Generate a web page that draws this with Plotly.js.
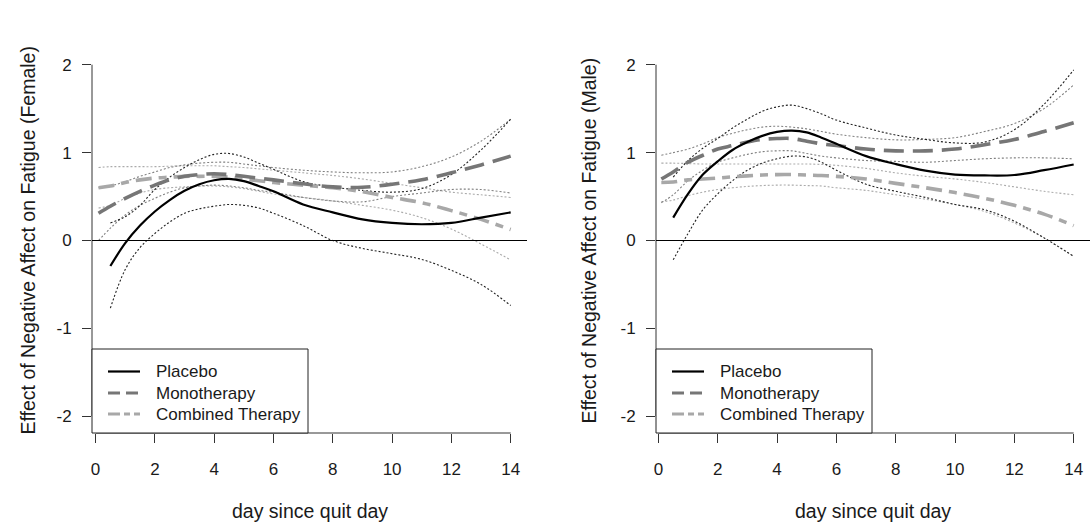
<!DOCTYPE html>
<html>
<head>
<meta charset="utf-8">
<script src="https://cdn.plot.ly/plotly-3.0.1.min.js"></script>
<style>html,body{margin:0;padding:0;background:#fff;}#chart{width:1092px;height:527px;}</style>
</head>
<body>
<div id="chart"></div>
<script>
// ---------- data ----------
const xTicks = [0, 2, 4, 6, 8, 10, 12, 14];
const xTickText = ["0", "2", "4", "6", "8", "10", "12", "14"];
const yTicks = [-2, -1, 0, 1, 2];
const yTickText = ["-2", "-1", "0", "1", "2"];

const seriesNames = ["Placebo", "Monotherapy", "Combined Therapy"];
const xTitle = "day since quit day";
const yTitleFemale = "Effect of Negative Affect on Fatigue (Female)";
const yTitleMale = "Effect of Negative Affect on Fatigue (Male)";

// day grids
const dayPlacebo = [0.5, 1, 1.5, 2, 2.5, 3, 3.5, 4, 4.5, 5, 5.5, 6, 7, 8, 9, 10, 11, 12, 13, 14];
const dayTreat = [0.1, 0.5, 1, 1.5, 2, 2.5, 3, 3.5, 4, 4.5, 5, 5.5, 6, 7, 8, 9, 10, 11, 12, 13, 14];

// ---- Female ----
const fPlacebo    = [-0.29, -0.03, 0.17, 0.33, 0.46, 0.565, 0.64, 0.685, 0.70, 0.675, 0.62, 0.56, 0.41, 0.32, 0.24, 0.20, 0.185, 0.20, 0.26, 0.32];
const fPlaceboLo  = [-0.77, -0.33, -0.08, 0.08, 0.21, 0.31, 0.36, 0.39, 0.41, 0.40, 0.37, 0.31, 0.17, 0.0, -0.09, -0.15, -0.215, -0.34, -0.50, -0.74];
const fPlaceboHi  = [0.20, 0.27, 0.40, 0.58, 0.72, 0.83, 0.92, 0.98, 0.99, 0.95, 0.88, 0.81, 0.67, 0.61, 0.57, 0.55, 0.59, 0.75, 1.03, 1.38];
const fMono       = [0.31, 0.39, 0.48, 0.56, 0.63, 0.69, 0.73, 0.75, 0.76, 0.75, 0.73, 0.71, 0.69, 0.645, 0.61, 0.605, 0.64, 0.69, 0.77, 0.86, 0.96];
const fMonoLo     = [0.0, 0.14, 0.29, 0.40, 0.48, 0.55, 0.60, 0.62, 0.63, 0.62, 0.60, 0.57, 0.55, 0.49, 0.45, 0.44, 0.50, 0.54, 0.58, 0.58, 0.54];
const fMonoHi     = [0.60, 0.62, 0.67, 0.73, 0.78, 0.83, 0.86, 0.88, 0.89, 0.89, 0.87, 0.85, 0.83, 0.80, 0.78, 0.77, 0.78, 0.84, 0.95, 1.13, 1.38];
const fComb       = [0.60, 0.62, 0.66, 0.69, 0.71, 0.72, 0.73, 0.73, 0.73, 0.72, 0.70, 0.68, 0.66, 0.63, 0.60, 0.555, 0.49, 0.43, 0.34, 0.24, 0.125];
const fCombLo     = [0.37, 0.40, 0.48, 0.54, 0.58, 0.60, 0.61, 0.62, 0.62, 0.61, 0.59, 0.56, 0.53, 0.49, 0.45, 0.40, 0.345, 0.26, 0.13, -0.04, -0.22];
const fCombHi     = [0.83, 0.84, 0.84, 0.84, 0.84, 0.845, 0.85, 0.85, 0.85, 0.84, 0.83, 0.815, 0.80, 0.77, 0.74, 0.70, 0.65, 0.60, 0.55, 0.52, 0.49];

// ---- Male ----
const mPlacebo    = [0.26, 0.53, 0.75, 0.90, 1.03, 1.12, 1.19, 1.235, 1.25, 1.23, 1.17, 1.10, 0.96, 0.87, 0.795, 0.75, 0.74, 0.745, 0.80, 0.865];
const mPlaceboLo  = [-0.22, 0.08, 0.35, 0.53, 0.68, 0.80, 0.88, 0.93, 0.96, 0.95, 0.89, 0.80, 0.64, 0.56, 0.49, 0.41, 0.35, 0.22, 0.03, -0.18];
const mPlaceboHi  = [0.72, 0.91, 1.05, 1.16, 1.28, 1.38, 1.47, 1.52, 1.54, 1.50, 1.44, 1.37, 1.28, 1.20, 1.15, 1.11, 1.12, 1.26, 1.55, 1.94];
const mMono       = [0.70, 0.78, 0.89, 0.97, 1.04, 1.08, 1.12, 1.15, 1.16, 1.16, 1.13, 1.10, 1.08, 1.04, 1.02, 1.02, 1.04, 1.09, 1.15, 1.24, 1.34];
const mMonoLo     = [0.43, 0.52, 0.68, 0.80, 0.89, 0.94, 0.98, 1.01, 1.02, 1.02, 0.99, 0.96, 0.94, 0.91, 0.90, 0.89, 0.91, 0.93, 0.94, 0.94, 0.93];
const mMonoHi     = [0.97, 1.00, 1.04, 1.10, 1.17, 1.22, 1.26, 1.29, 1.30, 1.29, 1.27, 1.24, 1.21, 1.17, 1.145, 1.15, 1.17, 1.24, 1.33, 1.50, 1.77];
const mComb       = [0.66, 0.665, 0.69, 0.70, 0.71, 0.725, 0.735, 0.745, 0.75, 0.75, 0.745, 0.74, 0.73, 0.70, 0.65, 0.60, 0.545, 0.48, 0.40, 0.30, 0.17];
const mCombLo     = [0.44, 0.46, 0.51, 0.55, 0.58, 0.60, 0.615, 0.625, 0.63, 0.63, 0.625, 0.62, 0.60, 0.57, 0.52, 0.47, 0.41, 0.33, 0.20, 0.03, -0.18];
const mCombHi     = [0.88, 0.88, 0.875, 0.87, 0.87, 0.87, 0.87, 0.87, 0.87, 0.87, 0.87, 0.865, 0.855, 0.82, 0.77, 0.73, 0.70, 0.66, 0.61, 0.56, 0.52];

// ---------- styles ----------
const W = 1092, H = 527;
const fx = p => p / W;
const fy = p => 1 - p / H;
const FONT = "Liberation Sans, Arial, Helvetica, sans-serif";
const TXT = "#1a1a1a";

const sty = {
  placebo:  {color: "#000000", width: 2.2, dash: "solid"},
  mono:     {color: "#767676", width: 3.6, dash: "20px,9px"},
  comb:     {color: "#a8a8a8", width: 3.6, dash: "16px,7px,8px,7px"},
  placeboCI:{color: "#222222", width: 1.1, dash: "2px,2px"},
  monoCI:   {color: "#808080", width: 1.1, dash: "2px,2px"},
  combCI:   {color: "#ababab", width: 1.1, dash: "2px,2px"}
};

function tr(x, y, s, xa, ya) {
  return {x: x, y: y, xaxis: xa, yaxis: ya, type: "scatter", mode: "lines",
          line: {color: s.color, width: s.width, dash: s.dash, shape: "spline", smoothing: 1},
          hoverinfo: "skip", showlegend: false};
}

function panel(xa, ya, p, pLo, pHi, mo, moLo, moHi, co, coLo, coHi) {
  return [
    tr(dayTreat, coLo, sty.combCI, xa, ya), tr(dayTreat, coHi, sty.combCI, xa, ya),
    tr(dayTreat, moLo, sty.monoCI, xa, ya), tr(dayTreat, moHi, sty.monoCI, xa, ya),
    tr(dayPlacebo, pLo, sty.placeboCI, xa, ya), tr(dayPlacebo, pHi, sty.placeboCI, xa, ya),
    tr(dayTreat, co, sty.comb, xa, ya),
    tr(dayTreat, mo, sty.mono, xa, ya),
    tr(dayPlacebo, p, sty.placebo, xa, ya)
  ];
}

const data = [].concat(
  panel("x", "y", fPlacebo, fPlaceboLo, fPlaceboHi, fMono, fMonoLo, fMonoHi, fComb, fCombLo, fCombHi),
  panel("x2", "y2", mPlacebo, mPlaceboLo, mPlaceboHi, mMono, mMonoLo, mMonoHi, mComb, mCombLo, mCombHi)
);

const tickFont = {family: FONT, size: 17, color: TXT};
function xAx(domain, range, anchor) {
  return {domain: domain, range: range, anchor: anchor, showgrid: false, zeroline: false, showline: false,
          tickmode: "array", tickvals: xTicks, ticktext: xTickText, ticks: "outside", ticklen: 9,
          tickwidth: 1, tickcolor: "#333", tickfont: tickFont, ticklabelstandoff: 12, fixedrange: true};
}
function yAx(domain, anchor) {
  return {domain: domain, range: [-2.19, 2.19], anchor: anchor, showgrid: false, zeroline: false, showline: false,
          tickmode: "array", tickvals: yTicks, ticktext: yTickText, ticks: "outside", ticklen: 9,
          tickwidth: 1, tickcolor: "#333", tickfont: tickFont, ticklabelstandoff: 7, fixedrange: true};
}
const yDom = [fy(433), fy(48)];

const shapes = [];
const annotations = [];
function decorate(xa, ya, leftPx, rightPx, yTitle, yTitleX) {
  // axis lines spanning the tick range (R style)
  shapes.push({type: "line", xref: xa, yref: ya + " domain", x0: 0, x1: 14, y0: 0, y1: 0, line: {color: "#333", width: 1}});
  shapes.push({type: "line", xref: xa + " domain", yref: ya, x0: 0, x1: 0, y0: -2, y1: 2, line: {color: "#333", width: 1}});
  // horizontal reference at 0
  shapes.push({type: "line", xref: xa + " domain", yref: ya, x0: 0, x1: 1, y0: 0, y1: 0, line: {color: "#000", width: 1}});
  // legend box
  const L = leftPx;
  shapes.push({type: "rect", xref: "paper", yref: "paper", x0: fx(L), x1: fx(L + 216), y0: fy(433), y1: fy(349),
               fillcolor: "#ffffff", line: {color: "#222", width: 1}, layer: "above"});
  const rows = [371.5, 393, 414];
  const ls = [sty.placebo, sty.mono, sty.comb];
  const legW = [2.2, 3, 3];
  const legDash = ["solid", "12px,6px", "12px,4px,6px,4px"];
  for (let i = 0; i < 3; i++) {
    shapes.push({type: "line", xref: "paper", yref: "paper", x0: fx(L + 16), x1: fx(L + 48), y0: fy(rows[i]), y1: fy(rows[i]),
                 line: {color: ls[i].color, width: legW[i], dash: legDash[i]}, layer: "above"});
    annotations.push({xref: "paper", yref: "paper", x: fx(L + 62), y: fy(rows[i]), xanchor: "left", yanchor: "middle",
                      text: seriesNames[i], showarrow: false, font: {family: FONT, size: 17, color: TXT}});
  }
  // axis titles
  annotations.push({xref: "paper", yref: "paper", x: fx((leftPx + rightPx) / 2), y: fy(511), xanchor: "center", yanchor: "middle",
                    text: xTitle, showarrow: false, font: {family: FONT, size: 19.5, color: TXT}});
  annotations.push({xref: "paper", yref: "paper", x: fx(yTitleX), y: fy(240.5), xanchor: "center", yanchor: "middle",
                    text: yTitle, textangle: -90, showarrow: false, font: {family: FONT, size: 19.5, color: TXT}});
}
decorate("x", "y", 92, 527, yTitleFemale, 28);
decorate("x2", "y2", 656, 1090, yTitleMale, 589);

const layout = {
  width: W, height: H,
  margin: {l: 0, r: 0, t: 0, b: 0},
  paper_bgcolor: "#ffffff", plot_bgcolor: "#ffffff",
  showlegend: false, hovermode: false,
  xaxis: xAx([fx(92), fx(527)], [-0.12, 14.55], "y"),
  yaxis: yAx(yDom, "x"),
  xaxis2: xAx([fx(656), fx(1090)], [-0.08, 14.55], "y2"),
  yaxis2: yAx(yDom, "x2"),
  shapes: shapes,
  annotations: annotations
};

Plotly.newPlot("chart", data, layout, {staticPlot: true, displayModeBar: false});
</script>
</body>
</html>
